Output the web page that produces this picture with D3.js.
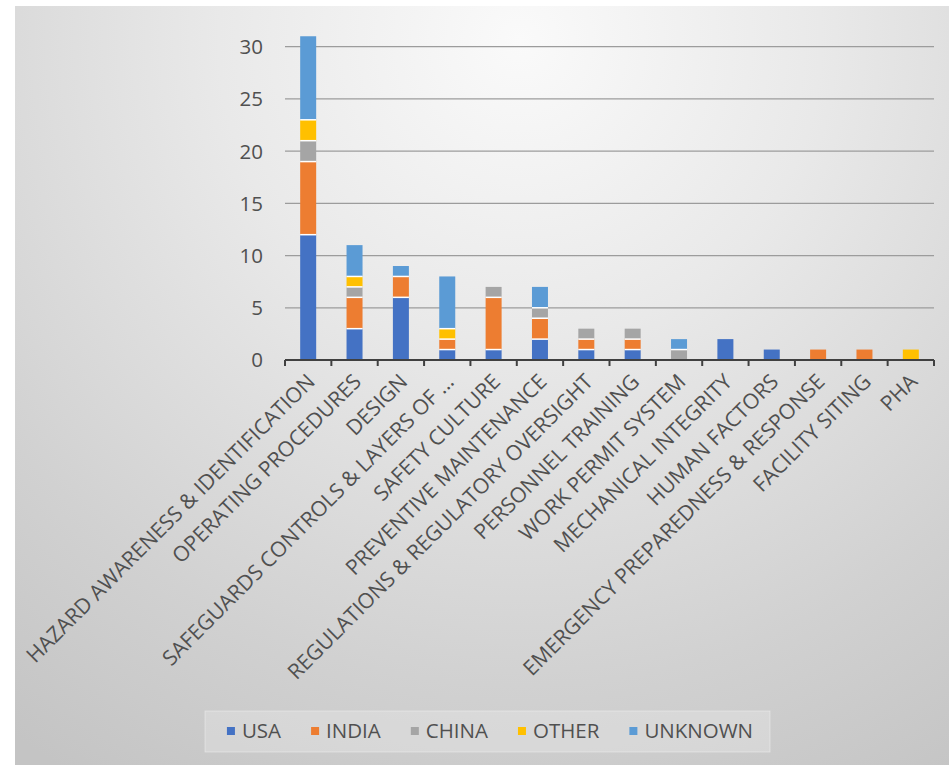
<!DOCTYPE html>
<html>
<head>
<meta charset="utf-8">
<script src="https://cdn.jsdelivr.net/npm/d3@7/dist/d3.min.js"></script>
<style>
  html, body { margin: 0; padding: 0; background: #ffffff; }
  svg { display: block; }
  text { font-family: "Open Sans", "Noto Sans", sans-serif; fill: #505050; }
</style>
</head>
<body>
<script>
// Process-safety incident causes, counted by country of occurrence
const categories = [
  "HAZARD AWARENESS & IDENTIFICATION",
  "OPERATING PROCEDURES",
  "DESIGN",
  "SAFEGUARDS CONTROLS & LAYERS OF ...",
  "SAFETY CULTURE",
  "PREVENTIVE MAINTENANCE",
  "REGULATIONS & REGULATORY OVERSIGHT",
  "PERSONNEL TRAINING",
  "WORK PERMIT SYSTEM",
  "MECHANICAL INTEGRITY",
  "HUMAN FACTORS",
  "EMERGENCY PREPAREDNESS & RESPONSE",
  "FACILITY SITING",
  "PHA"
];
const seriesNames = ["USA", "INDIA", "CHINA", "OTHER", "UNKNOWN"];
const usa     = [12, 3, 6, 1, 1, 2, 1, 1, 0, 2, 1, 0, 0, 0];
const india   = [ 7, 3, 2, 1, 5, 2, 1, 1, 0, 0, 0, 1, 1, 0];
const china   = [ 2, 1, 0, 0, 1, 1, 1, 1, 1, 0, 0, 0, 0, 0];
const other   = [ 2, 1, 0, 1, 0, 0, 0, 0, 0, 0, 0, 0, 0, 1];
const unknown = [ 8, 3, 1, 5, 0, 2, 0, 0, 1, 0, 0, 0, 0, 0];
const yTicks  = [0, 5, 10, 15, 20, 25, 30];

const colors = ["#4472C4", "#ED7D31", "#A5A5A5", "#FFC000", "#5B9BD5"];

const W = 949, H = 765;
const plot = { left: 285, right: 934, top: 46.7, bottom: 360 };

const rows = categories.map((c, i) => ({
  cat: c, USA: usa[i], INDIA: india[i], CHINA: china[i], OTHER: other[i], UNKNOWN: unknown[i]
}));
const stacked = d3.stack().keys(seriesNames)(rows);

const svg = d3.select("body").append("svg").attr("width", W).attr("height", H);

// soft radial backdrop
const defs = svg.append("defs");
const grad = defs.append("radialGradient")
  .attr("id", "bg").attr("gradientUnits", "userSpaceOnUse")
  .attr("cx", 520).attr("cy", 40).attr("r", 860);
grad.append("stop").attr("offset", "0%").attr("stop-color", "#fafafa");
grad.append("stop").attr("offset", "35%").attr("stop-color", "#e9e9e9");
grad.append("stop").attr("offset", "75%").attr("stop-color", "#d1d1d1");
grad.append("stop").attr("offset", "100%").attr("stop-color", "#c4c4c4");

svg.append("rect").attr("x", 15).attr("y", 6).attr("width", W - 15).attr("height", H - 6)
  .attr("fill", "url(#bg)");

const x = d3.scaleBand().domain(categories).range([plot.left, plot.right])
  .paddingInner(0.655).paddingOuter(0.3275);
const xb = d3.scaleBand().domain(categories).range([plot.left, plot.right]).padding(0);
const y = d3.scaleLinear().domain([0, 30]).range([plot.bottom, plot.top]);

// gridlines
svg.append("g").selectAll("line").data(yTicks.filter(t => t > 0)).join("line")
  .attr("x1", plot.left).attr("x2", plot.right)
  .attr("y1", d => y(d)).attr("y2", d => y(d))
  .attr("stroke", "#9c9c9c").attr("stroke-width", 1.3);

// y tick labels
svg.append("g").selectAll("text").data(yTicks).join("text")
  .attr("x", 263).attr("y", d => y(d)).attr("dy", "0.36em")
  .attr("text-anchor", "end").style("font-size", "20.5px")
  .text(d => d);

// stacked bars
const layers = svg.append("g").selectAll("g").data(stacked).join("g")
  .attr("fill", (d, i) => colors[i]);
layers.selectAll("rect").data(d => d.filter(s => s[1] > s[0])).join("rect")
  .attr("x", d => x(d.data.cat)).attr("width", x.bandwidth())
  .attr("y", d => y(d[1])).attr("height", d => y(d[0]) - y(d[1]));

// thin white seams between stacked segments
const seams = [];
stacked.forEach(layer => layer.forEach(s => {
  if (s[1] > s[0] && s[0] > 0) seams.push({ cat: s.data.cat, v: s[0] });
}));
svg.append("g").selectAll("line").data(seams).join("line")
  .attr("x1", d => x(d.cat)).attr("x2", d => x(d.cat) + x.bandwidth())
  .attr("y1", d => y(d.v)).attr("y2", d => y(d.v))
  .attr("stroke", "#ffffff").attr("stroke-width", 1.5);

// category axis
const axisG = svg.append("g");
axisG.append("line").attr("x1", plot.left).attr("x2", plot.right)
  .attr("y1", plot.bottom).attr("y2", plot.bottom)
  .attr("stroke", "#404040").attr("stroke-width", 2.2);
const bounds = categories.map(c => xb(c)).concat([plot.right]);
axisG.selectAll("line.tick").data(bounds).join("line").attr("class", "tick")
  .attr("x1", d => d).attr("x2", d => d)
  .attr("y1", plot.bottom).attr("y2", plot.bottom + 6)
  .attr("stroke", "#404040").attr("stroke-width", 2);

svg.append("g").selectAll("text").data(categories).join("text")
  .attr("text-anchor", "end").style("font-size", "21.2px")
  .attr("transform", d => `translate(${xb(d) + xb.bandwidth() / 2 + 8},${plot.bottom + 23}) rotate(-45)`)
  .text(d => d);

// legend
const lg = svg.append("g");
lg.append("rect").attr("x", 205).attr("y", 711).attr("width", 565).attr("height", 41)
  .attr("fill", "#ffffff").attr("fill-opacity", 0.22)
  .attr("stroke", "#ffffff").attr("stroke-opacity", 0.35);
const items = lg.selectAll("g.item").data(seriesNames).join("g").attr("class", "item");
items.append("rect").attr("width", 8).attr("height", 8).attr("y", -4)
  .attr("fill", (d, i) => colors[i]);
items.append("text").attr("x", 15).attr("dy", "0.36em").style("font-size", "20.5px").text(d => d);
const widths = [];
items.each(function () {
  widths.push(this.querySelector("text").getComputedTextLength() + 15);
});
const gap = 30;
const total = d3.sum(widths) + gap * (widths.length - 1);
let cursor = 490 - total / 2;
items.attr("transform", (d, i) => {
  const t = `translate(${cursor},731)`;
  cursor += widths[i] + gap;
  return t;
});
</script>
</body>
</html>
